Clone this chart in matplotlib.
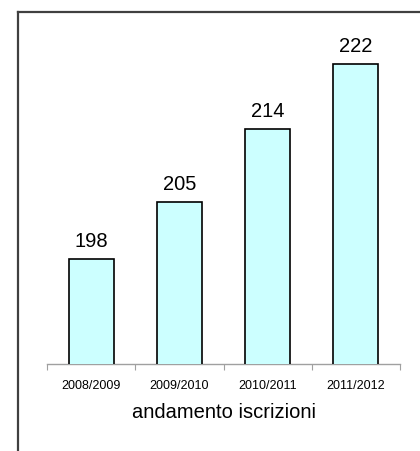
import matplotlib
matplotlib.use("Agg")
import matplotlib.pyplot as plt
from matplotlib.lines import Line2D

years = ["2008/2009", "2009/2010", "2010/2011", "2011/2012"]
iscrizioni = [198, 205, 214, 222]
axis_title = "andamento iscrizioni"

W, H = 420, 452
plt.rcParams['font.family'] = ['Liberation Sans', 'DejaVu Sans']
fig = plt.figure(figsize=(W / 100, H / 100), dpi=100)

left, right, bottom, top = 47, 400, 365, 30
ax = fig.add_axes([left / W, 1 - bottom / H, (right - left) / W, (bottom - top) / H])

x = list(range(len(years)))
bars = ax.bar(x, iscrizioni, width=0.51, color="#CCFFFF", edgecolor="black", linewidth=1.2, zorder=3)
for xi, v in zip(x, iscrizioni):
    ax.annotate(str(v), (xi, v), xytext=(0, 6.5), textcoords="offset points",
                ha="center", va="bottom", fontsize=14.5)

ax.set_xlim(-0.5, len(years) - 0.5)
ax.set_ylim(185, 185 + (bottom - top) / 8.1)
ax.set_xticks(x)
ax.set_xticklabels(years, fontsize=9)
ax.set_xticks([i - 0.5 for i in range(len(years) + 1)], minor=True)
ax.tick_params(axis="x", which="major", length=0, pad=10.5)
ax.tick_params(axis="x", which="minor", length=4, width=0.8, color="#a0a0a0", direction="out")
ax.set_yticks([])
for s in ["top", "right", "left"]:
    ax.spines[s].set_visible(False)
ax.spines["bottom"].set_color("#a0a0a0")
ax.spines["bottom"].set_linewidth(1.0)
ax.set_xlabel(axis_title, fontsize=14.5, labelpad=8)

# outer frame (left and top edges)
fig.add_artist(Line2D([18 / W, 18 / W], [0, 1 - 13 / H], color="#404040", linewidth=1.6, transform=fig.transFigure))
fig.add_artist(Line2D([18 / W, 1], [1 - 13 / H, 1 - 13 / H], color="#404040", linewidth=1.6, transform=fig.transFigure))

fig.savefig("out.png", dpi=100)
